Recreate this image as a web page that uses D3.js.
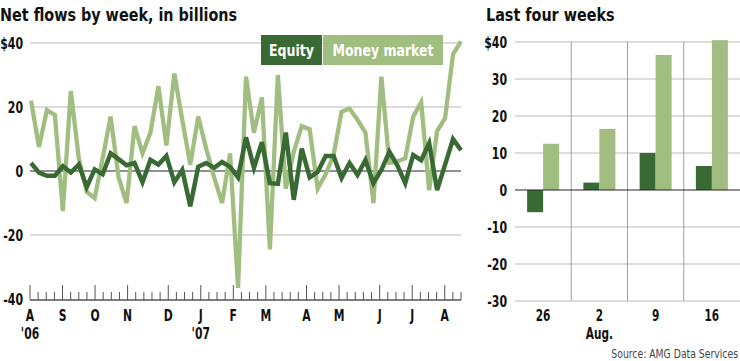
<!DOCTYPE html>
<html>
<head>
<meta charset="utf-8">
<script src="https://cdn.jsdelivr.net/npm/d3@7"></script>
<style>
  body { margin: 0; background: #fff; }
  svg text { font-family: "Liberation Sans Narrow", "DejaVu Sans Condensed", "Roboto Condensed", sans-serif; }
</style>
</head>
<body>
<div id="chart"></div>
<script>
// weekly net flows, $ billions (Aug 2006 - Aug 16 2007)
const equity = [2.5, -0.5, -1.5, -1.5, 1.5, -0.5, 2, -5, 0.5, -1,
  5.5, 3.7, 1.8, 2.5, -3.5, 3.5, 2, 4.7, -3.5, 0.3,
  -11, 1.3, 2.5, 1, 2.8, 1.3, -2, 10.5, 1, 9,
  -3.8, -4, 12, -9, 7, -2, -0.3, 4.7, 4.7, -2.2,
  2.5, -1.2, 3.4, -3.8, 0.3, 6, 1.8, -3.8, 5, 3.4,
  8.7, -6, 2, 10, 6.5];
const money = [22, 7.5, 19, 17.5, -12.5, 25, 4, -6.5, -8.5, 4,
  17, -2, -10, 14, 5.5, 12, 26.5, 8, 30.5, 16,
  2, 17, 7, -2, -10, 5.5, -36.5, 29.5, 12, 23,
  -24.5, 30, -5.5, 6, 14, 13, -5.5, -1, 5, 18.5,
  19.5, 16, 12, -10, 29.5, 2.5, 3, 4, 17, 21.5,
  -6, 12.5, 16.5, 36.5, 40.5];

// x axis: 54 weekly ticks, month labels on the long ones
const weekTickCount = 54;
const monthTickIdx = [0, 4, 8, 12, 17, 21, 25, 29, 34, 38, 43, 47, 51];
const monthLabels = ["A", "S", "O", "N", "D", "J", "F", "M", "A", "M", "J", "J", "A"];
const yearLabels = ["'06", "", "", "", "", "'07", "", "", "", "", "", "", ""];
const leftTicks = [40, 20, 0, -20, -40];

// last four weeks
const barWeeks = ["26", "2", "9", "16"];
const barSub = ["", "Aug.", "", ""];
const rightTicks = [40, 30, 20, 10, 0, -10, -20, -30];

const cDark = "#3a6a33", cLight = "#9fbe7f";

// squeeze text horizontally (no narrow font installed)
function narrow(sel, k) {
  sel.each(function () {
    const t = d3.select(this);
    const x0 = +t.attr("x") || 0;
    t.attr("x", x0 / k).attr("transform", `scale(${k},1)`);
  });
}

const svg = d3.select("#chart").append("svg")
  .attr("width", 740).attr("height", 361);

// titles
const titles = svg.selectAll("text.title")
  .data([{ x: 0, t: "Net flows by week, in billions" }, { x: 486, t: "Last four weeks" }])
  .enter().append("text").attr("class", "title")
  .attr("x", d => d.x).attr("y", 21)
  .attr("font-size", 17).attr("font-weight", "bold").attr("fill", "#111")
  .text(d => d.t);
narrow(titles, 0.94);

// ---------- left: line chart
const x = d3.scaleLinear().domain([0, equity.length - 1]).range([31, 461]);
const xt = d3.scaleLinear().domain([0, weekTickCount - 1]).range([30, 461]);
const y = d3.scaleLinear().domain([-40, 40]).range([299, 43]);

const left = svg.append("g");

left.selectAll("line.grid").data(leftTicks.filter(d => d !== -40))
  .enter().append("line")
  .attr("x1", 30).attr("x2", 461)
  .attr("y1", d => y(d)).attr("y2", d => y(d))
  .attr("stroke", d => d === 0 ? "#222" : "#cfcfcf")
  .attr("stroke-width", d => d === 0 ? 1 : 1.5);

const yAxis = left.append("g").attr("transform", "translate(23,0)")
  .call(d3.axisLeft(y).tickValues(leftTicks).tickSize(0).tickPadding(0)
    .tickFormat(d => d === 40 ? "$40" : d));
yAxis.select(".domain").remove();
narrow(yAxis.selectAll("text").attr("font-size", 16).attr("font-weight", "bold").attr("fill", "#111"), 0.76);

// bottom week ticks
const base = 300;
left.append("line").attr("x1", 30).attr("x2", 461)
  .attr("y1", base).attr("y2", base).attr("stroke", "#555").attr("stroke-width", 1.5);
left.selectAll("line.wk").data(d3.range(weekTickCount)).enter().append("line")
  .attr("x1", d => xt(d)).attr("x2", d => xt(d))
  .attr("y1", base).attr("y2", d => monthTickIdx.includes(d) ? base - 15 : base - 8)
  .attr("stroke", "#555").attr("stroke-width", 1);
const mo = left.selectAll("text.mo").data(monthTickIdx).enter().append("text")
  .attr("x", d => xt(d)).attr("y", 321).attr("text-anchor", "middle")
  .attr("font-size", 15).attr("font-weight", "bold").attr("fill", "#111")
  .text((d, i) => monthLabels[i]);
narrow(mo, 0.8);
const yr = left.selectAll("text.yr").data(monthTickIdx.filter((d, i) => yearLabels[i])).enter().append("text")
  .attr("x", d => xt(d)).attr("y", 339).attr("text-anchor", "middle")
  .attr("font-size", 15).attr("font-weight", "bold").attr("fill", "#111")
  .text(d => yearLabels[monthTickIdx.indexOf(d)]);
narrow(yr, 0.8);

const line = d3.line().x((d, i) => x(i)).y(d => y(d));
left.append("path").datum(money).attr("d", line)
  .attr("fill", "none").attr("stroke", cLight).attr("stroke-width", 4.3);
left.append("path").datum(equity).attr("d", line)
  .attr("fill", "none").attr("stroke", cDark).attr("stroke-width", 4.5);

// legend
const legend = [{ name: "Equity", color: cDark, x0: 261, x1: 322 },
                { name: "Money market", color: cLight, x0: 323, x1: 443 }];
const lg = left.selectAll("g.lg").data(legend).enter().append("g");
lg.append("rect").attr("x", d => d.x0).attr("y", 35)
  .attr("width", d => d.x1 - d.x0).attr("height", 30).attr("fill", d => d.color);
narrow(lg.append("text").attr("x", d => (d.x0 + d.x1) / 2).attr("y", 56)
  .attr("text-anchor", "middle").attr("font-size", 16).attr("font-weight", "bold")
  .attr("fill", "#fff").text(d => d.name), 0.87);

// ---------- right: bars
const last = equity.length - barWeeks.length;
const bars = barWeeks.map((w, i) => ({ week: w, equity: equity[last + i], money: money[last + i] }));

const xb = d3.scaleBand().domain(barWeeks).range([515, 740]);
const xs = d3.scaleBand().domain(["equity", "money"])
  .range([xb.bandwidth() / 2 - 16, xb.bandwidth() / 2 + 16]);
const yb = d3.scaleLinear().domain([-30, 40]).range([301, 42]);

const right = svg.append("g");
right.selectAll("line.hg").data(rightTicks.filter(d => d !== 0)).enter().append("line")
  .attr("x1", 515).attr("x2", 740)
  .attr("y1", d => yb(d)).attr("y2", d => yb(d))
  .attr("stroke", "#d2d2d2").attr("stroke-width", 1.5);
right.selectAll("line.vg").data(barWeeks.slice(1)).enter().append("line")
  .attr("x1", d => xb(d)).attr("x2", d => xb(d))
  .attr("y1", yb(40)).attr("y2", yb(-30))
  .attr("stroke", "#a0a0a0").attr("stroke-width", 1);

const rAxis = right.append("g").attr("transform", "translate(507,0)")
  .call(d3.axisLeft(yb).tickValues(rightTicks).tickSize(0).tickPadding(0)
    .tickFormat(d => d === 40 ? "$40" : d));
rAxis.select(".domain").remove();
narrow(rAxis.selectAll("text").attr("font-size", 16).attr("font-weight", "bold").attr("fill", "#111"), 0.76);

const grp = right.selectAll("g.wk").data(bars).enter().append("g")
  .attr("transform", d => `translate(${xb(d.week)},0)`);
grp.selectAll("rect").data(d => ["equity", "money"].map(k => ({ k, v: d[k] })))
  .enter().append("rect")
  .attr("x", d => xs(d.k)).attr("width", xs.bandwidth())
  .attr("y", d => yb(Math.max(0, d.v)))
  .attr("height", d => Math.abs(yb(d.v) - yb(0)))
  .attr("fill", d => d.k === "equity" ? cDark : cLight);

right.append("line").attr("x1", 515).attr("x2", 740)
  .attr("y1", yb(0)).attr("y2", yb(0)).attr("stroke", "#222").attr("stroke-width", 1);

narrow(right.selectAll("text.wl").data(barWeeks).enter().append("text")
  .attr("x", d => xb(d) + xb.bandwidth() / 2).attr("y", 321).attr("text-anchor", "middle")
  .attr("font-size", 15).attr("font-weight", "bold").attr("fill", "#111").text(d => d), 0.78);
narrow(right.selectAll("text.ws").data(barWeeks.filter((d, i) => barSub[i])).enter().append("text")
  .attr("x", d => xb(d) + xb.bandwidth() / 2).attr("y", 339).attr("text-anchor", "middle")
  .attr("font-size", 15).attr("font-weight", "bold").attr("fill", "#111")
  .text(d => barSub[barWeeks.indexOf(d)]), 0.78);

narrow(svg.append("text").attr("x", 738).attr("y", 358).attr("text-anchor", "end")
  .attr("font-size", 12).attr("fill", "#444").text("Source: AMG Data Services"), 0.86);
</script>
</body>
</html>
